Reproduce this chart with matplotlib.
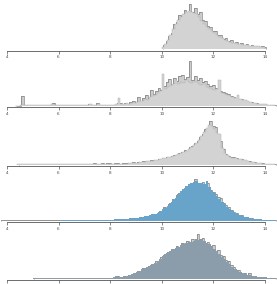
import matplotlib
matplotlib.use("Agg")
import matplotlib.pyplot as plt
import numpy as np

# bin width for all histograms
bw = 0.1

# panel 1
f1_start = 10.0
f1 = [2, 5, 9, 14, 20, 25, 29, 32, 35, 37, 38, 37, 36, 35, 32, 28, 25, 22, 20, 18,
      16, 14, 12, 11, 9, 8, 7, 6, 6, 5, 5, 4, 4, 4, 3, 3, 3, 3, 2, 2]
b1_start = 10.05
b1 = [4, 8, 13, 16, 25, 27, 34, 33, 39, 36, 45, 37, 41, 35, 37, 29, 28, 23, 22, 18,
      18, 14, 14, 10, 11, 8, 9, 6, 7, 5, 6, 4, 5, 3, 4, 3, 3, 2, 3, 2]

# panel 2
f2_start = 4.3
f2 = [0, 0, 1, 1, 1, 1, 1, 1, 1, 1, 1, 1, 1, 1, 2, 1, 1, 1, 1, 1,
      1, 1, 1, 1, 1, 1, 1, 1, 1, 2, 1, 1, 2, 1, 1, 1, 1, 1, 1, 2,
      8, 2, 2, 3, 2, 3, 3, 4, 5, 5, 7, 6, 9, 10, 11, 13, 15, 32, 17, 19,
      20, 22, 26, 22, 24, 23, 26, 24, 23, 25, 24, 22, 21, 22, 19, 18, 17, 16, 17, 26,
      13, 12, 11, 10, 9, 8, 11, 7, 6, 6, 5, 4, 3, 3, 2, 2, 2, 2, 1, 1,
      1]
b2_start = 4.35
b2 = [0, 0, 10, 1, 1, 1, 1, 1, 1, 1, 1, 1, 1, 1, 3, 1, 1, 1, 1, 1,
      1, 1, 1, 1, 1, 1, 1, 1, 2, 1, 1, 3, 1, 1, 1, 1, 1, 1, 1, 3,
      3, 2, 3, 2, 4, 5, 4, 9, 5, 8, 11, 8, 16, 12, 15, 18, 16, 20, 24, 27,
      22, 28, 25, 30, 31, 27, 29, 45, 26, 30, 26, 28, 24, 25, 22, 20, 21, 18, 16, 15,
      14, 13, 12, 10, 9, 8, 7, 7, 6, 5, 4, 4, 3, 3, 2, 2, 2, 1, 1, 1,
      1]

# panel 3
f3_start = 4.4
f3 = [1] * 26 + [1, 1, 1, 1, 1, 1, 1, 1, 1, 1, 1, 1, 1, 1, 1, 1,
      1, 2, 2, 2, 2, 3, 3, 3, 4, 4, 4, 5, 5, 6, 7, 7, 8, 8, 9, 10,
      11, 12, 13, 14, 16, 18, 20, 22, 25, 29, 33, 37, 40, 39, 36, 32, 31, 17, 12, 10,
      8, 7, 7, 6, 6, 5, 5, 4, 3, 3, 2, 2, 2, 1, 1, 1, 1, 1]
b3_start = 4.45
b3 = [1] * 26 + [1, 1, 1, 2, 1, 1, 2, 1, 2, 2, 1, 2, 2, 1, 2, 2,
      2, 2, 3, 2, 3, 3, 4, 3, 4, 5, 4, 5, 6, 6, 7, 8, 8, 9, 10, 10,
      12, 13, 15, 14, 18, 19, 22, 24, 28, 31, 36, 37, 44, 39, 38, 30, 24, 16, 11, 9,
      8, 8, 7, 6, 6, 5, 4, 4, 3, 3, 2, 2, 2, 1, 1, 1, 1, 1]

# panel 4
f4_start = 6.0
f4 = [0.4, 0.4, 0.4, 0.4, 0.4, 0.4, 0.4, 0.4, 0.4, 0.4, 0.4, 0.4, 0.4, 0.4, 0.4, 0.4, 0.4, 0.4, 0.4, 0.4,
      1, 1, 1.5, 1.5, 1.5, 2, 2, 2, 2.5, 2.5, 3, 3.5, 4, 4.5, 5, 6, 6.5, 7, 8, 10,
      12, 13, 15, 18, 22, 23, 27, 30, 32, 35, 37, 38, 39, 40, 38, 38, 37, 40, 34, 30,
      28, 25, 22, 19, 17, 14, 12, 10, 8, 7, 6, 5, 4, 3.5, 3, 2, 2, 1.5, 1.3, 1,
      1, 1, 0.8, 0.6]
b4_start = 3.75
b4 = [1] * 43 + [1, 1.5, 1.5, 1.5, 2, 2, 2, 2.5, 2.5, 3, 3, 4, 4, 5, 5, 6, 7, 7, 9, 10,
      14, 13, 17, 19, 21, 26, 28, 30, 33, 34, 36, 37, 42, 38, 37, 39, 36, 38, 31, 29,
      27, 24, 23, 18, 16, 14, 11, 9, 8, 6, 6, 4, 4, 3, 2.5, 2, 1.5, 1.5, 1, 1,
      1, 1, 1, 1]

# panel 5
f5_start = 5.0
f5 = [0.5] * 26 + [0.8, 0.8, 0.8, 0.8,
      1, 1.5, 2.5, 2, 2, 2.5, 3, 4, 5, 6, 7, 8, 10, 11, 12, 13, 15, 16, 18, 20,
      23, 25, 27, 28, 30, 31, 32, 34, 35, 36, 37, 37, 38, 40, 39, 39, 38, 36, 35, 32,
      30, 28, 25, 22, 20, 17, 15, 12, 10, 8, 7, 6, 5, 4, 3.5, 3, 2.5, 2, 2, 1.5,
      1.5, 1, 1, 0.8]
b5_start = 5.05
b5 = [0.5] * 26 + [0.8, 0.8, 0.8, 0.8,
      1, 2, 3, 2, 2, 3, 3, 4, 5, 6, 8, 8, 11, 10, 13, 14, 15, 18, 17, 22,
      24, 26, 26, 30, 29, 33, 31, 36, 34, 38, 36, 40, 37, 45, 40, 41, 36, 37, 33, 34,
      28, 29, 24, 23, 19, 18, 14, 12, 9, 9, 6, 6, 4, 6, 3, 3, 2, 2, 1.5, 1.5,
      1, 1, 1, 0.8]

ticks = [4, 6, 8, 10, 12, 14]

panels = [
    (f1_start, f1, b1_start, b1, "#d3d3d3"),
    (f2_start, f2, b2_start, b2, "#d3d3d3"),
    (f3_start, f3, b3_start, b3, "#d3d3d3"),
    (f4_start, f4, b4_start, b4, "#68a4ca"),
    (f5_start, f5, b5_start, b5, "#8b9dab"),
]

# pixel row of each panel's axis line
spine_y = [50.5, 107, 166, 222, 280]

W, H = 277, 284
fig = plt.figure(figsize=(W / 100, H / 100), dpi=100)

for (fs, fv, bs, bv, col), sy in zip(panels, spine_y):
    ax = fig.add_axes([0, (H - sy) / H, 1, 48 / H])
    fe = fs + bw * np.arange(len(fv) + 1)
    be = bs + bw * np.arange(len(bv) + 1)

    ax.stairs(bv, be, fill=True, color="#cccccc", lw=0)
    ax.stairs(bv, be, color="#666666", lw=0.4)
    ax.stairs(fv, fe, fill=True, color=col, lw=0)
    if col == "#d3d3d3":
        ax.stairs(fv, fe, color="#b3b3b3", lw=0.35)

    ax.set_xlim(3.73, 14.47)
    ax.set_ylim(-1.5, 46.5)
    for s in ["top", "left", "right"]:
        ax.spines[s].set_visible(False)
    ax.spines["bottom"].set_bounds(4, 14)
    ax.spines["bottom"].set_color("#555555")
    ax.spines["bottom"].set_linewidth(0.6)
    ax.set_yticks([])
    ax.set_xticks(ticks)
    ax.set_xticklabels([str(t) for t in ticks])
    ax.tick_params(axis="x", length=2, width=0.5, color="#555555",
                   labelsize=3, labelcolor="#444444", pad=1.5)
    ax.patch.set_visible(False)

fig.savefig("out.png", dpi=100)
